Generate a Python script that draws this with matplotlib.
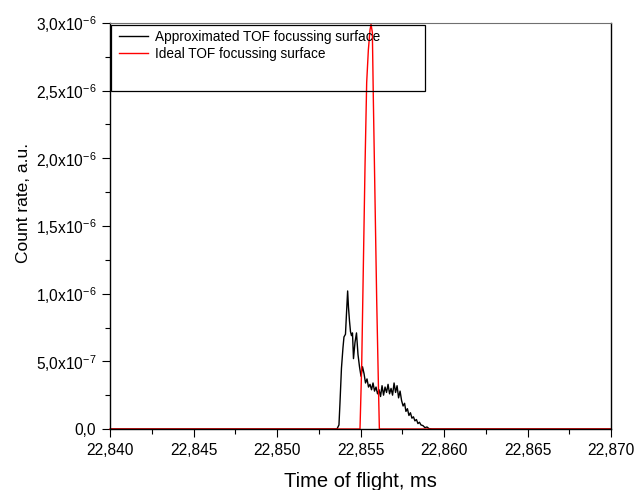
import matplotlib
matplotlib.use('Agg')
import matplotlib.pyplot as plt
from matplotlib.ticker import MultipleLocator, FuncFormatter
from matplotlib.patches import Rectangle

plt.rcParams['font.family'] = ['Liberation Sans', 'DejaVu Sans']

# data: time of flight (ms) and count rate (a.u.)
t_approx = [22.840, 22.85359, 22.85371, 22.85377, 22.85386, 22.85395, 22.85401, 22.85410,
            22.85416, 22.85423, 22.85428, 22.85434, 22.85440, 22.85446, 22.85452, 22.85458,
            22.85467, 22.85476, 22.85485, 22.85494, 22.85503, 22.85512, 22.85521, 22.85530,
            22.85539, 22.85548, 22.85557, 22.85566, 22.85575, 22.85584, 22.85593, 22.85602,
            22.85611, 22.85620, 22.85629, 22.85638, 22.85647, 22.85656, 22.85665, 22.85674,
            22.85683, 22.85692, 22.85701, 22.85710, 22.85719, 22.85728, 22.85737, 22.85746,
            22.85755, 22.85764, 22.85772, 22.85781, 22.85790, 22.85799, 22.85808, 22.85817,
            22.85826, 22.85835, 22.85844, 22.85853, 22.85862, 22.85874, 22.85886, 22.85898,
            22.85910, 22.85928, 22.870]
c_approx = [0, 0, 0.3, 1.9, 4.5, 6.0, 6.8, 7.0,
            8.5, 10.2, 9.0, 8.0, 7.2, 6.9, 7.1, 5.2,
            6.4, 7.1, 5.5, 4.6, 3.9, 4.6, 4.1, 3.4,
            3.7, 3.1, 3.3, 2.9, 3.4, 2.8, 3.1, 2.6,
            2.9, 2.4, 3.2, 2.5, 3.1, 2.7, 3.3, 2.6,
            3.0, 2.5, 3.4, 2.7, 3.2, 2.3, 2.8, 2.1,
            1.7, 1.9, 1.3, 1.5, 1.0, 1.2, 0.8, 0.9,
            0.6, 0.7, 0.4, 0.5, 0.3, 0.25, 0.1, 0.15,
            0.03, 0, 0]
c_approx = [v * 1e-7 for v in c_approx]

t_ideal = [22.840, 22.85497, 22.85507, 22.85517, 22.85527, 22.85537, 22.85547, 22.85557,
           22.85563, 22.85571, 22.85577, 22.85587, 22.85597, 22.85607, 22.85613, 22.870]
c_ideal = [0, 0, 0.46, 1.20, 1.94, 2.56, 2.80, 2.95,
           2.99, 2.93, 2.43, 1.69, 0.95, 0.34, 0, 0]
c_ideal = [v * 1e-6 for v in c_ideal]

fig = plt.figure(figsize=(6.39, 4.9), dpi=100)
ax = fig.add_axes([110 / 639, 61 / 490, 501 / 639, 406 / 490])

ax.plot(t_approx, c_approx, color='black', lw=1.0, label='Approximated TOF focussing surface')
ax.plot(t_ideal, c_ideal, color='red', lw=1.0, label='Ideal TOF focussing surface', clip_on=False)

ax.set_xlim(22.840, 22.870)
ax.set_ylim(0, 3.0e-6)

ax.xaxis.set_major_locator(MultipleLocator(0.005))
ax.xaxis.set_minor_locator(MultipleLocator(0.0025))
ax.yaxis.set_major_locator(MultipleLocator(0.5e-6))
ax.yaxis.set_minor_locator(MultipleLocator(0.25e-6))

ax.xaxis.set_major_formatter(FuncFormatter(lambda v, p: ('%.3f' % v).replace('.', ',')))


def yfmt(v, p):
    if abs(v) < 1e-12:
        return '0,0'
    e = 0
    m = v
    while abs(m) < 1:
        m *= 10
        e -= 1
    return ('%.1f' % m).replace('.', ',') + r'x10$^{\mathregular{%d}}$' % e


ax.yaxis.set_major_formatter(FuncFormatter(yfmt))

ax.tick_params(which='major', direction='out', length=6, width=0.8, labelsize=11.2, pad=4)
ax.tick_params(which='minor', direction='out', length=3.5, width=0.8)
ax.tick_params(top=False, right=False)

ax.spines['top'].set_color('#707070')
for s in ['left', 'bottom', 'right']:
    ax.spines[s].set_color('black')
    ax.spines[s].set_linewidth(1.0)

ax.set_xlabel('Time of flight, ms', fontsize=14.5)
ax.set_ylabel('Count rate, a.u.', fontsize=12.5)
ax.xaxis.set_label_coords(0.5, -0.105)
ax.yaxis.set_label_coords(-0.158, 0.557)

# legend with tall frame as in the original
leg = ax.legend(loc='upper left', bbox_to_anchor=(0.005, 0.999), frameon=False,
                fontsize=9.8, handlelength=2.1, handletextpad=0.5, labelspacing=0.2,
                borderaxespad=0.1)
ax.add_patch(Rectangle((0.002, 0.832), 0.627, 0.163, transform=ax.transAxes,
                       fill=False, edgecolor='black', lw=0.9, zorder=5))

fig.savefig('out.png', dpi=100)
